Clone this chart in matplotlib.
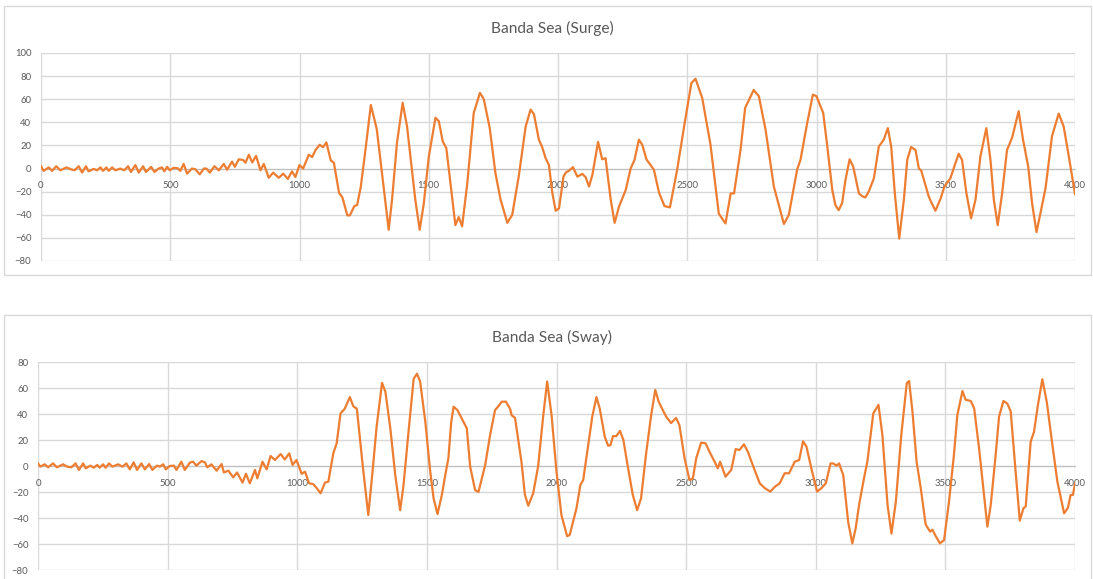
import matplotlib
matplotlib.use("Agg")
import matplotlib.pyplot as plt
from matplotlib.patches import Rectangle

plt.rcParams['font.family'] = ['Lato', 'DejaVu Sans']

# Banda Sea surge response
surge_x = [0, 10, 30, 43, 59, 75, 98, 116, 129, 146, 159, 174, 184, 204, 217, 230, 240, 253, 262, 275,
           288, 307, 322, 337, 348, 365, 378, 395, 406, 426, 439, 455, 468, 477, 488, 498, 513, 529, 539, 552,
           565, 584, 597, 614, 630, 640, 653, 671, 688, 707, 720, 739, 750, 765, 782, 791, 804, 817, 832, 849,
           862, 881, 898, 920, 937, 955, 971, 984, 1000, 1014, 1036, 1049, 1062, 1078, 1091, 1104, 1121, 1133, 1153, 1166,
           1185, 1195, 1212, 1223, 1237, 1255, 1276, 1299, 1313, 1328, 1345, 1358, 1377, 1399, 1416, 1435, 1448, 1465, 1481, 1500,
           1526, 1539, 1554, 1568, 1584, 1603, 1616, 1629, 1649, 1674, 1698, 1713, 1736, 1758, 1778, 1804, 1823, 1849, 1875, 1894,
           1907, 1926, 1939, 1952, 1965, 1978, 1991, 2004, 2021, 2030, 2043, 2058, 2075, 2094, 2107, 2120, 2133, 2155, 2171, 2184,
           2204, 2219, 2236, 2262, 2281, 2296, 2313, 2326, 2342, 2371, 2391, 2412, 2433, 2461, 2490, 2516, 2532, 2558, 2590, 2622,
           2648, 2668, 2681, 2706, 2724, 2757, 2777, 2803, 2835, 2874, 2893, 2925, 2938, 2964, 2986, 3000, 3026, 3041, 3061, 3073,
           3086, 3099, 3112, 3128, 3142, 3164, 3177, 3189, 3202, 3222, 3241, 3260, 3276, 3289, 3303, 3320, 3338, 3351, 3366, 3383,
           3396, 3405, 3434, 3443, 3460, 3480, 3495, 3518, 3533, 3550, 3563, 3580, 3598, 3615, 3634, 3657, 3673, 3686, 3701, 3718,
           3737, 3757, 3782, 3799, 3819, 3834, 3851, 3866, 3886, 3911, 3937, 3956, 3975, 4000]
surge_y = [2, -2, 1, -2, 2, -1.5, 1, -0.6, -1.5, 2, -3.5, 2, -2.4, -0.3, -1.5, 1, -2, 1, -2, 1,
           -1.5, 0, -1.5, 2, -3, 3, -3.5, 2, -3, 1.5, -3, 0, 1, -2.4, 1.5, -1.5, 0.6, 0.3, -2, 4,
           -4.4, 0, -0.6, -5, 0, 0, -3.5, 2, -1.5, 4, -1, 6, 1.5, 8, 7.4, 5, 12, 5.3, 11, -1.5,
           4, -8, -3.5, -8, -4.4, -9, -2.4, -7.4, 3, 0, 12, 10, 16, 20.6, 18.5, 22.6, 7, 5, -21, -25,
           -40.5, -40.5, -32.5, -31.5, -16, 16, 55, 34, 7.5, -21, -53, -27, 22, 57, 36.5, -1, -27, -53, -30, 10,
           44, 41, 23.5, 17.7, -13, -49, -42, -50, -13, 48, 65.5, 60, 35, -4, -27, -47, -40, -5.5, 36.5, 51,
           47, 25, 18.5, 9, 3, -21, -36.5, -34.5, -7, -3.5, -1.7, 1.2, -7, -4.6, -7.5, -15.6, -5.5, 23, 8, 9,
           -27, -47, -33, -18.5, 0, 7.5, 25, 20.6, 8, -1, -21, -32.5, -33.6, -1, 39.4, 74, 77.7, 61, 20.6, -39,
           -47.5, -21.5, -21.5, 16, 52.5, 68, 62.6, 33.6, -15.6, -48, -40, -1, 7.5, 39.4, 64, 62.6, 48, 20.6, -18.5, -31.6,
           -36, -30, -10, 8, 1.7, -21.5, -24, -25, -20, -8.4, 19, 25, 35, 19, -21.5, -60.6, -27, 7.5, 18.6, 16,
           0, -1.7, -24, -28.7, -36.5, -26, -15.6, -8.4, 1.7, 12.8, 7.5, -21.5, -43, -27, 10.4, 35, 7.5, -27, -49, -21.5,
           16, 27, 49.6, 25, 1.7, -30, -55, -39, -17, 28, 47.6, 36.5, 12, -22]

# Banda Sea sway response
sway_x = [0, 9, 26, 39, 58, 73, 97, 112, 129, 145, 158, 174, 184, 202, 215, 228, 238, 251, 261, 274,
          287, 309, 326, 341, 354, 369, 382, 399, 412, 429, 441, 459, 470, 483, 493, 508, 524, 534, 553, 566,
          586, 598, 611, 631, 644, 653, 669, 689, 708, 717, 734, 753, 768, 789, 802, 817, 837, 846, 866, 882,
          897, 914, 936, 952, 969, 982, 997, 1017, 1030, 1046, 1062, 1075, 1090, 1107, 1120, 1139, 1152, 1167, 1183, 1203,
          1216, 1230, 1253, 1274, 1291, 1306, 1327, 1340, 1359, 1378, 1397, 1410, 1429, 1449, 1462, 1474, 1494, 1513, 1526, 1541,
          1558, 1571, 1583, 1594, 1603, 1618, 1641, 1654, 1667, 1686, 1699, 1725, 1744, 1763, 1776, 1789, 1805, 1821, 1827, 1840,
          1865, 1878, 1891, 1910, 1929, 1949, 1964, 1981, 2000, 2019, 2041, 2051, 2077, 2092, 2103, 2122, 2138, 2154, 2167, 2186,
          2199, 2208, 2218, 2231, 2245, 2258, 2274, 2294, 2311, 2326, 2345, 2365, 2381, 2394, 2410, 2423, 2442, 2461, 2474, 2494,
          2513, 2526, 2539, 2558, 2575, 2590, 2610, 2622, 2631, 2652, 2674, 2691, 2706, 2723, 2738, 2764, 2784, 2803, 2825, 2842,
          2861, 2880, 2897, 2919, 2936, 2951, 2964, 2983, 3005, 3022, 3039, 3057, 3067, 3080, 3090, 3106, 3125, 3141, 3154, 3167,
          3186, 3199, 3222, 3242, 3257, 3277, 3292, 3309, 3330, 3351, 3360, 3373, 3389, 3405, 3424, 3441, 3450, 3463, 3479, 3495,
          3514, 3533, 3546, 3566, 3578, 3598, 3611, 3630, 3649, 3662, 3675, 3694, 3707, 3724, 3739, 3752, 3771, 3787, 3801, 3810,
          3829, 3842, 3857, 3874, 3891, 3912, 3932, 3958, 3973, 3983, 3992, 4000]
sway_y = [2, -0.5, 1.3, -1, 2, -1, 1.3, -0.5, -1, 2, -3, 2, -1.8, 0.3, -1.3, 0.8, -1.3, 1.3, -1.3, 2,
          -0.5, 1.3, -0.5, 2, -2.6, 2.8, -3, 2, -2.6, 1.5, -3, 0.3, -0.5, 1.3, -2.6, 0, 0.3, -3, 3.3, -3,
          2.6, 3.3, 0.3, 3.8, 2.8, -1, 1.3, -3.6, 1.5, -5, -3.6, -8.7, -5, -12.8, -6, -13.3, -3, -9.5, 3.3, -2.6,
          7.7, 4.6, 9.2, 5, 9.7, 0.8, 4.6, -6, -4.4, -13.3, -14, -17, -21, -12.8, -12, 9.7, 17.4, 40.5, 44, 53,
          46, 44, -0.5, -37.7, -3, 30, 64, 57, 29, -7, -34, -14.6, 26, 67, 71, 65, 34, -4.4, -25, -37,
          -22, -7, 6, 34, 45.6, 43, 34, 29, -0.5, -18.5, -20, 0.8, 24, 43, 46, 49.5, 49.5, 44, 39, 37,
          3, -22, -30.5, -21, -0.5, 39, 65, 39, -4.4, -37.7, -54, -53, -32.6, -14.6, -10.8, 16, 38, 53, 44, 22.6,
          15.6, 16, 23, 23, 27, 20, 0.8, -22, -34, -25, 8.5, 39, 58.5, 49.5, 43, 38, 33, 37, 31.5, 6,
          -10.8, -9.5, 6, 18, 17.4, 11, 3.3, -1.8, 3.3, -8.2, -3, 13, 12.3, 16.7, 11, -3, -13.3, -17, -19.7, -16,
          -13.3, -5.6, -5.6, 3.3, 4.6, 19, 15, -1.8, -19.7, -17, -13.3, 2, 2, 0.3, 2, -7, -43, -59.5, -48, -30,
          -9.5, 3.3, 40.5, 47, 24, -30, -52, -27.4, 24, 63.6, 65.4, 42, 3.3, -17, -45, -50.5, -49, -54, -59.5, -57,
          -27.4, 8.5, 39, 57.7, 51, 50, 44.4, 13.6, -22, -46.7, -30, 8.5, 38, 50, 48, 42, -4.4, -42, -32.6, -31,
          18.7, 26.4, 47, 66.7, 49.5, 17.4, -12, -36.4, -32, -22.3, -22.3, -13.3]

LINE = '#ED7D31'
GRID = '#d9d9d9'
TXT = '#595959'

W, H = 1093, 579
fig = plt.figure(figsize=(W / 100, H / 100), dpi=100)

# chart frames
fig.patches.append(Rectangle((4 / W, 1 - 275 / H), 1087 / W, 269 / H, transform=fig.transFigure,
                             fill=False, ec=GRID, lw=1))
fig.patches.append(Rectangle((4 / W, -0.01), 1087 / W, (579 - 315) / H + 0.01, transform=fig.transFigure,
                             fill=False, ec=GRID, lw=1))


def style(ax, ylo, yhi):
    ax.set_xlim(0, 4000)
    ax.set_ylim(ylo, yhi)
    ax.set_xticks(range(0, 4001, 500))
    ax.set_yticks(range(ylo, yhi + 1, 20))
    ax.grid(True, color=GRID, lw=1)
    ax.set_axisbelow(True)
    for s in ['top', 'right', 'left']:
        ax.spines[s].set_visible(False)
    ax.spines['bottom'].set_position(('data', 0))
    ax.spines['bottom'].set_color('#bfbfbf')
    ax.tick_params(axis='x', length=0, pad=9, labelsize=6.8, labelcolor=TXT)
    ax.tick_params(axis='y', length=0, pad=7, labelsize=6.8, labelcolor=TXT)
    ax.set_facecolor('none')


ax1 = fig.add_axes([41 / W, 1 - 261 / H, 1034 / W, 208 / H])
ax1.plot(surge_x, surge_y, color=LINE, lw=1.6, zorder=3)
style(ax1, -80, 100)

ax2 = fig.add_axes([38 / W, 1 - 570 / H, 1037 / W, 208 / H])
ax2.plot(sway_x, sway_y, color=LINE, lw=1.6, zorder=3)
style(ax2, -80, 80)

fig.text(552 / W, 1 - 28 / H, 'Banda Sea (Surge)', ha='center', va='center', fontsize=11.2, color=TXT)
fig.text(552 / W, 1 - 337 / H, 'Banda Sea (Sway)', ha='center', va='center', fontsize=11.2, color=TXT)

fig.savefig('out.png', dpi=100)
